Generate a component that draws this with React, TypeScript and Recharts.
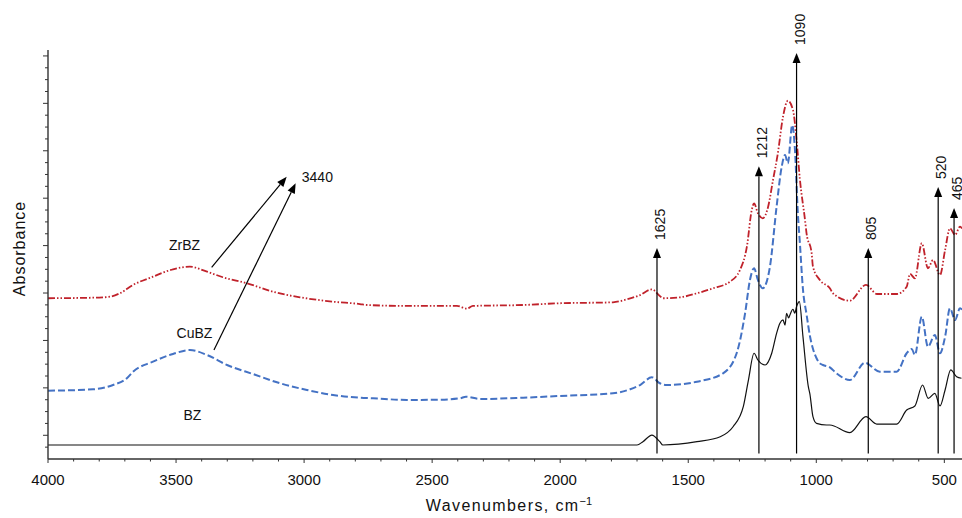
import React from 'react';
import { LineChart, Line, XAxis, YAxis, ReferenceLine, ReferenceDot } from 'recharts';

const FONT = '"Liberation Sans", Arial, Helvetica, sans-serif';

// ZrBZ spectrum (wavenumber, offset absorbance)
const zrWave = [4000, 3800, 3758, 3719, 3668, 3590, 3512, 3446, 3379, 3317, 3223, 3121, 3016, 2887, 2782, 2754, 2598, 2403, 2364, 2341, 2145, 2012, 1794, 1739, 1688, 1642, 1611, 1599, 1532, 1466, 1403, 1337, 1298, 1271, 1252, 1243, 1228, 1209, 1188, 1169, 1150, 1130, 1111, 1091, 1077, 1064, 1044, 1038, 1018, 1013, 986, 947, 935, 869, 806, 763, 685, 647, 634, 615, 588, 564, 544, 517, 497, 478, 458, 439, 431];
const zrAbs = [13.56, 13.62, 13.69, 13.98, 14.68, 15.38, 16.0, 16.22, 15.8, 15.33, 14.82, 14.11, 13.64, 13.27, 13.07, 12.99, 12.91, 12.91, 12.68, 12.91, 12.99, 13.13, 13.22, 13.47, 13.83, 14.31, 13.75, 13.56, 13.64, 13.98, 14.4, 14.96, 15.94, 17.91, 21.0, 21.57, 20.73, 20.3, 21.28, 23.53, 25.79, 28.87, 30.22, 29.44, 26.91, 23.6, 20.16, 19.04, 17.35, 16.22, 15.1, 14.4, 13.98, 13.35, 14.68, 13.92, 13.92, 14.53, 15.61, 15.24, 18.2, 16.09, 16.79, 15.52, 17.63, 19.46, 18.9, 19.6, 19.45];

// CuBZ spectrum
const cuWave = [4000, 3824, 3746, 3692, 3668, 3590, 3512, 3446, 3379, 3301, 3200, 3094, 2989, 2887, 2782, 2731, 2598, 2469, 2391, 2368, 2313, 2145, 2012, 1794, 1727, 1688, 1642, 1611, 1584, 1466, 1364, 1311, 1278, 1259, 1243, 1228, 1209, 1181, 1155, 1135, 1122, 1111, 1094, 1084, 1072, 1064, 1052, 1038, 1025, 1013, 999, 986, 974, 947, 921, 869, 810, 752, 686, 647, 627, 615, 588, 564, 537, 517, 497, 478, 458, 439, 431];
const cuAbs = [5.76, 5.88, 6.24, 6.81, 7.36, 8.21, 8.86, 9.19, 8.77, 7.93, 7.17, 6.39, 5.82, 5.4, 5.17, 5.12, 4.98, 5.0, 5.12, 5.26, 5.06, 5.17, 5.31, 5.54, 5.88, 6.24, 6.89, 6.39, 6.24, 6.52, 7.23, 8.92, 12.29, 15.1, 16.09, 15.1, 14.4, 16.22, 21.28, 24.66, 25.64, 24.94, 28.17, 26.34, 20.73, 18.2, 14.3, 12.2, 10.4, 9.3, 8.5, 8.07, 7.93, 7.73, 7.23, 6.66, 8.12, 7.36, 7.36, 8.92, 9.28, 8.77, 12.0, 9.47, 10.46, 8.92, 10.32, 12.71, 11.73, 12.71, 12.6];

// BZ spectrum
const bzWave = [4000, 1700, 1677, 1642, 1611, 1599, 1466, 1375, 1325, 1285, 1265, 1243, 1228, 1200, 1174, 1155, 1142, 1130, 1122, 1116, 1108, 1103, 1091, 1084, 1077, 1066, 1052, 1031, 1025, 1013, 999, 960, 947, 869, 806, 764, 686, 647, 615, 585, 563, 537, 517, 497, 475, 452, 433];
const bzAbs = [1.18, 1.18, 1.46, 2.02, 1.46, 1.18, 1.46, 1.88, 2.72, 4.41, 6.66, 8.92, 8.35, 7.93, 8.92, 10.6, 11.45, 11.73, 11.3, 12.29, 11.9, 12.15, 12.63, 12.3, 12.85, 13.27, 10.32, 6.1, 5.5, 3.57, 3.01, 2.87, 2.87, 2.22, 3.57, 2.95, 2.95, 4.13, 4.47, 6.24, 5.12, 5.54, 4.47, 5.82, 7.51, 6.94, 6.81];

// peak markers
const peakLabels = ['1625', '1212', '1090', '805', '520', '465'];
const peakWave = [1622, 1224, 1077, 797, 524, 462];
const peakTop = [17.8, 24.7, 34.25, 17.8, 22.94, 21.17];
const peakBase = 0.47;

// 3440 arrows
const ohLabel = '3440';
const ohFrom = [
  { w: 3361, a: 16.17 },
  { w: 3352, a: 9.19 },
];
const ohTo = [
  { w: 3068, a: 23.81 },
  { w: 3033, a: 23.26 },
];
const ohText = { w: 3009, a: 23.39 };

const seriesNames = ['ZrBZ', 'CuBZ', 'BZ'];
const seriesLabelPos = [
  { w: 3467, a: 17.63 },
  { w: 3428, a: 10.21 },
  { w: 3436, a: 3.29 },
];

const xMajorTicks = [4000, 3500, 3000, 2500, 2000, 1500, 1000, 500];
const xTicks: number[] = [];
for (let t = 4000; t >= 500; t -= 100) xTicks.push(t);
const yTicks: number[] = [];
for (let t = 1; t <= 34; t++) yTicks.push(t);

const toRows = (w: number[], a: number[]) => w.map((v, i) => ({ w: v, a: a[i] }));
const zrRows = toRows(zrWave, zrAbs);
const cuRows = toRows(cuWave, cuAbs);
const bzRows = toRows(bzWave, bzAbs);

const AXIS = '#333';

const XTick = (props: any) => {
  const { x, y, payload } = props;
  const major = xMajorTicks.includes(payload.value);
  return (
    <g>
      <line x1={x} y1={y} x2={x} y2={y + (major ? 4 : 2.5)} stroke={AXIS} strokeWidth={1} />
      {major && (
        <text x={x} y={y + 26} textAnchor="middle" fontSize={15} fontFamily={FONT} fill="#111">
          {payload.value}
        </text>
      )}
    </g>
  );
};

const YTick = (props: any) => {
  const { x, y, payload } = props;
  const major = (payload.value - 2) % 4 === 0;
  return <line x1={x - (major ? 5 : 3)} y1={y} x2={x} y2={y} stroke={AXIS} strokeWidth={1} />;
};

// arrow drawn from (x1,y1) to (x2,y2); optional rotated label above the tip
const Arrow = (props: any) => {
  const { x1, y1, x2, y2, text } = props;
  const dx = x2 - x1;
  const dy = y2 - y1;
  const len = Math.hypot(dx, dy) || 1;
  const ux = dx / len;
  const uy = dy / len;
  const hl = 10;
  const hw = 4;
  const bx = x2 - ux * hl;
  const by = y2 - uy * hl;
  const pts = `${x2},${y2} ${bx - uy * hw},${by + ux * hw} ${bx + uy * hw},${by - ux * hw}`;
  return (
    <g>
      <line x1={x1} y1={y1} x2={bx} y2={by} stroke="#000" strokeWidth={1.2} />
      <polygon points={pts} fill="#000" />
      {text && (
        <text
          transform={`translate(${x2 + 8},${y2 - 8}) rotate(-90)`}
          fontSize={14}
          fontFamily={FONT}
          fill="#111"
        >
          {text}
        </text>
      )}
    </g>
  );
};

const labelAt = (text: string, anchor: 'start' | 'middle') => (p: any) => (
  <text x={p.cx} y={p.cy} textAnchor={anchor} fontSize={14} fontFamily={FONT} fill="#111">
    {text}
  </text>
);

export default function App() {
  return (
    <div style={{ position: 'absolute', left: 0, top: 0, width: 962, height: 518, background: '#fff' }}>
      <LineChart width={962} height={518} margin={{ top: 50, right: 0, bottom: 0, left: 0 }}>
        <XAxis
          type="number"
          dataKey="w"
          domain={[431, 4000]}
          reversed
          allowDataOverflow
          ticks={xTicks}
          interval={0}
          tick={XTick}
          tickLine={false}
          tickSize={0}
          tickMargin={0}
          height={59}
          axisLine={{ stroke: AXIS, strokeWidth: 1.4 }}
          label={(p: any) => {
            const vb = p.viewBox || { x: 48, y: 459, width: 914 };
            return (
              <text
                x={vb.x + vb.width / 2 + 4}
                y={vb.y + 52}
                textAnchor="middle"
                fontSize={16}
                letterSpacing={1.4}
                fontFamily={FONT}
                fill="#111"
              >
                Wavenumbers, cm
                <tspan dy={-6} fontSize={11} letterSpacing={0}>
                  −1
                </tspan>
              </text>
            );
          }}
        />
        <YAxis
          type="number"
          domain={[0, 34.5]}
          allowDataOverflow
          ticks={yTicks}
          interval={0}
          tick={YTick}
          tickLine={false}
          tickSize={0}
          tickMargin={0}
          width={48}
          axisLine={{ stroke: AXIS, strokeWidth: 1.4 }}
          label={(p: any) => {
            const vb = p.viewBox || { x: 0, y: 50, width: 48, height: 409 };
            const cy = vb.y + vb.height / 2 - 6;
            return (
              <text
                transform={`translate(25,${cy}) rotate(-90)`}
                textAnchor="middle"
                fontSize={16}
                letterSpacing={1}
                fontFamily={FONT}
                fill="#111"
              >
                Absorbance
              </text>
            );
          }}
        />
        <Line
          data={bzRows}
          dataKey="a"
          type="monotone"
          stroke="#111"
          strokeWidth={1.2}
          dot={false}
          activeDot={false}
          isAnimationActive={false}
        />
        <Line
          data={cuRows}
          dataKey="a"
          type="monotone"
          stroke="#4472C4"
          strokeWidth={2}
          strokeDasharray="7 3"
          dot={false}
          activeDot={false}
          isAnimationActive={false}
        />
        <Line
          data={zrRows}
          dataKey="a"
          type="monotone"
          stroke="#C0222B"
          strokeWidth={1.8}
          strokeDasharray="7 2 1.5 2 1.5 2"
          dot={false}
          activeDot={false}
          isAnimationActive={false}
        />
        {peakWave.map((w, i) => (
          <ReferenceLine
            key={peakLabels[i]}
            segment={[
              { x: w, y: peakBase },
              { x: w, y: peakTop[i] },
            ]}
            shape={(p: any) => <Arrow {...p} text={peakLabels[i]} />}
          />
        ))}
        {ohFrom.map((f, i) => (
          <ReferenceLine
            key={`oh${i}`}
            segment={[
              { x: f.w, y: f.a },
              { x: ohTo[i].w, y: ohTo[i].a },
            ]}
            shape={(p: any) => <Arrow {...p} />}
          />
        ))}
        <ReferenceDot x={ohText.w} y={ohText.a} r={0} shape={labelAt(ohLabel, 'start')} />
        {seriesNames.map((n, i) => (
          <ReferenceDot
            key={n}
            x={seriesLabelPos[i].w}
            y={seriesLabelPos[i].a}
            r={0}
            shape={labelAt(n, 'middle')}
          />
        ))}
      </LineChart>
    </div>
  );
}
